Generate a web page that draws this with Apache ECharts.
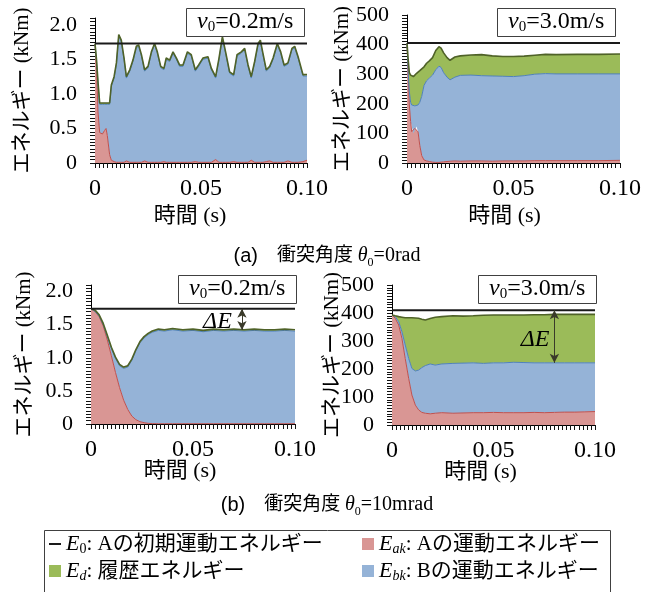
<!DOCTYPE html>
<html>
<head>
<meta charset="utf-8">
<script src="https://cdn.jsdelivr.net/npm/echarts@6/dist/echarts.min.js"></script>
<style>
  html, body { margin: 0; padding: 0; background: #fff; }
  #main { width: 654px; height: 592px; }
</style>
</head>
<body>
<div id="main"></div>
<script>
const SERIF = '"Liberation Serif", "Noto Sans CJK JP", serif';
const SANS = '"Liberation Sans", "Noto Sans CJK JP", sans-serif';

// (a) θ0=0rad, v0=0.2m/s  -- time (s) and energies (kNm)
const tA1 = [0, 0.0007, 0.0014, 0.0022, 0.0035, 0.0045, 0.0052, 0.0058, 0.0069, 0.0077,
  0.0090, 0.0101, 0.0112, 0.0124, 0.0137, 0.0148, 0.0164, 0.0179, 0.0195, 0.0206,
  0.0219, 0.0234, 0.0250, 0.0266, 0.0281, 0.0294, 0.0310, 0.0325, 0.0336, 0.0352,
  0.0368, 0.0384, 0.0399, 0.0415, 0.0436, 0.0454, 0.0473, 0.0489, 0.0509, 0.0533,
  0.0549, 0.0569, 0.0585, 0.0601, 0.0616, 0.0635, 0.0654, 0.0670, 0.0690, 0.0706,
  0.0722, 0.0737, 0.0753, 0.0769, 0.0780, 0.0792, 0.0808, 0.0824, 0.0840, 0.0860,
  0.0876, 0.0892, 0.0910, 0.0929, 0.0942, 0.0958, 0.0981, 0.1000];
const akA1 = [1.72, 1.40, 0.75, 0.44, 0.42, 0.47, 0.50, 0.40, 0.12, 0.04,
  0.02, 0.01, 0.01, 0.01, 0.01, 0.03, 0.01, 0.01, 0.01, 0.01,
  0.01, 0.03, 0.01, 0.01, 0.01, 0.01, 0.01, 0.02, 0.01, 0.01,
  0.01, 0.01, 0.01, 0.01, 0.01, 0.01, 0.02, 0.01, 0.01, 0.01,
  0.01, 0.05, 0.01, 0.01, 0.01, 0.01, 0.02, 0.01, 0.01, 0.01,
  0.01, 0.04, 0.01, 0.01, 0.01, 0.01, 0.02, 0.03, 0.01, 0.01,
  0.01, 0.01, 0.03, 0.01, 0.01, 0.01, 0.02, 0.04];
const bkA1 = [0, 0.08, 0.41, 0.41, 0.43, 0.38, 0.35, 0.45, 0.73, 1.07,
  1.21, 1.42, 1.83, 1.75, 1.49, 1.20, 1.32, 1.46, 1.66, 1.68,
  1.54, 1.30, 1.37, 1.58, 1.70, 1.58, 1.37, 1.33, 1.49, 1.46,
  1.58, 1.49, 1.39, 1.39, 1.58, 1.54, 1.31, 1.39, 1.49, 1.51,
  1.34, 1.18, 1.49, 1.80, 1.58, 1.29, 1.24, 1.54, 1.58, 1.63,
  1.39, 1.19, 1.44, 1.70, 1.75, 1.56, 1.31, 1.35, 1.49, 1.70,
  1.58, 1.39, 1.40, 1.63, 1.66, 1.51, 1.24, 1.22];
const dA1 = [0.01, 0.02, 0.02, 0.02, 0.02, 0.02, 0.02, 0.02, 0.02, 0.02,
  0.02, 0.02, 0.02, 0.02, 0.02, 0.02, 0.02, 0.02, 0.02, 0.02,
  0.02, 0.02, 0.02, 0.02, 0.02, 0.02, 0.02, 0.02, 0.02, 0.02,
  0.02, 0.02, 0.02, 0.02, 0.02, 0.02, 0.02, 0.02, 0.02, 0.02,
  0.02, 0.02, 0.02, 0.02, 0.02, 0.02, 0.02, 0.02, 0.02, 0.02,
  0.02, 0.02, 0.02, 0.02, 0.02, 0.02, 0.02, 0.02, 0.02, 0.02,
  0.02, 0.02, 0.02, 0.02, 0.02, 0.02, 0.02, 0.02];

// (a) θ0=0rad, v0=3.0m/s
const tA2 = [0, 0.0006, 0.0011, 0.0017, 0.0022, 0.0030, 0.0037, 0.0045, 0.0052, 0.0060,
  0.0069, 0.0080, 0.0092, 0.0105, 0.0120, 0.0135, 0.0150, 0.0160, 0.0172, 0.0188,
  0.0202, 0.0225, 0.0250, 0.0300, 0.0350, 0.0400, 0.0450, 0.0500, 0.0550, 0.0600,
  0.0650, 0.0700, 0.0800, 0.0900, 0.1000];
const akA2 = [405, 290, 196, 140, 106, 100, 117, 123, 105, 60,
  25, 10, 7, 5, 3, 2, 2, 3, 4, 5,
  6, 7, 6, 7, 7, 6, 7, 7, 7, 8,
  8, 8, 8, 8, 9];
const bkA2 = [0, 10, 45, 65, 90, 93, 76, 72, 91, 145,
  200, 252, 271, 282, 294, 313, 325, 320, 301, 285,
  275, 283, 290, 290, 288, 288, 286, 285, 288, 292,
  294, 293, 293, 293, 292];
const dA2 = [0, 45, 64, 92, 99, 99, 102, 108, 112, 107,
  91, 63, 59, 58, 59, 65, 66, 65, 67, 66,
  66, 68, 66, 68, 71, 68, 67, 68, 66, 64,
  65, 65, 66, 66, 67];

// (b) θ0=10mrad, v0=0.2m/s
const tB1 = [0, 0.002, 0.004, 0.006, 0.008, 0.010, 0.012, 0.014, 0.016, 0.018,
  0.020, 0.022, 0.024, 0.026, 0.028, 0.030, 0.033, 0.036, 0.040, 0.045,
  0.050, 0.055, 0.060, 0.065, 0.070, 0.075, 0.080, 0.085, 0.090, 0.095, 0.100];
const akB1 = [1.74, 1.70, 1.62, 1.48, 1.27, 1.03, 0.78, 0.55, 0.36, 0.22,
  0.12, 0.065, 0.035, 0.02, 0.01, 0.006, 0.004, 0.004, 0.004, 0.004,
  0.004, 0.004, 0.004, 0.004, 0.004, 0.004, 0.004, 0.004, 0.004, 0.004, 0.004];
const bkB1 = [0, 0, 0.01, 0.02, 0.05, 0.11, 0.21, 0.33, 0.48, 0.64,
  0.84, 1.04, 1.19, 1.28, 1.34, 1.38, 1.41, 1.40, 1.42, 1.40,
  1.41, 1.39, 1.41, 1.40, 1.41, 1.40, 1.41, 1.40, 1.40, 1.41, 1.40];
const dB1 = [0, 0.02, 0.02, 0.02, 0.02, 0.02, 0.02, 0.02, 0.02, 0.02,
  0.02, 0.02, 0.02, 0.02, 0.02, 0.02, 0.02, 0.02, 0.02, 0.02,
  0.02, 0.02, 0.02, 0.02, 0.02, 0.02, 0.02, 0.02, 0.02, 0.02, 0.02];

// (b) θ0=10mrad, v0=3.0m/s
const tB2 = [0, 0.0016, 0.0033, 0.0049, 0.0065, 0.0082, 0.0098, 0.0115, 0.0131, 0.0147,
  0.0164, 0.0188, 0.0213, 0.0245, 0.030, 0.035, 0.040, 0.045, 0.050, 0.055,
  0.060, 0.065, 0.070, 0.075, 0.080, 0.085, 0.090, 0.095, 0.100];
const akB2 = [393, 381, 357, 309, 238, 167, 107, 71, 54, 45,
  42, 40, 42, 44, 42, 43, 44, 44, 45, 44,
  44, 44, 45, 44, 45, 46, 46, 47, 48];
const bkB2 = [0, 6, 12, 24, 48, 71, 95, 122, 142, 160,
  170, 178, 172, 174, 178, 178, 178, 176, 177, 178,
  180, 179, 177, 178, 177, 176, 176, 175, 174];
const dB2 = [0, 3, 18, 52, 97, 145, 181, 189, 185, 173,
  163, 162, 171, 169, 170, 168, 168, 172, 171, 171,
  169, 170, 172, 172, 173, 173, 173, 173, 173];

// initial kinetic energy of A, per panel
const e0Values = [1.73, 405, 1.74, 410];
const speedLabels = ['0.2', '3.0', '0.2', '3.0'];

// tick labels
const xTickValues = [0, 0.05, 0.1];
const xTickLabels = ['0', '0.05', '0.10'];
const yTickValuesSmall = [0, 0.5, 1.0, 1.5, 2.0];
const yTickLabelsSmall = ['0', '0.5', '1.0', '1.5', '2.0'];
const yTickValuesLarge = [0, 100, 200, 300, 400, 500];
const yTickLabelsLarge = ['0', '100', '200', '300', '400', '500'];

// ΔE arrows (b): time, from, to ; label position
const dEArrows = { 2: [0.074, 1.74, 1.42], 3: [0.080, 410, 222] };
const dELabels = { 2: [0.062, 1.54], 3: [0.0705, 304] };

const C = {
  ak: '#d99694', akLine: '#c0504d',
  bk: '#95b3d7', bkLine: '#4f81bd',
  d: '#9bbb59', dLine: '#4f6228',
  e0: '#1a1a1a', tick: '#111'
};

// tick marks every 0.002 s on x, every 0.05 / 10 kNm on y; labels only on round values
const panels = [
  { t: tA1, ak: akA1, bk: bkA1, d: dA1, grid: { left: 95, top: 18, width: 212, height: 145 }, ymax: 2.1, ystep: 0.05, big: false, yGap: 62, xGap: 42, xShift: 22, box: [186, 7] },
  { t: tA2, ak: akA2, bk: bkA2, d: dA2, grid: { left: 407, top: 15, width: 213, height: 148 }, ymax: 500, ystep: 10, big: true, yGap: 54, xGap: 42, xShift: 18, box: [497, 7] },
  { t: tB1, ak: akB1, bk: bkB1, d: dB1, grid: { left: 91, top: 285, width: 204, height: 139 }, ymax: 2.1, ystep: 0.05, big: false, yGap: 56, xGap: 36, xShift: 26, box: [178, 274] },
  { t: tB2, ak: akB2, bk: bkB2, d: dB2, grid: { left: 392, top: 285, width: 203, height: 140 }, ymax: 500, ystep: 10, big: true, yGap: 49, xGap: 36, xShift: 26, box: [478, 274] }
];

function labelFn(vals, labels) {
  return function (v) {
    for (let i = 0; i < vals.length; i++) {
      if (Math.abs(v - vals[i]) < 1e-7) return labels[i];
    }
    return '';
  };
}

const grids = [], xAxes = [], yAxes = [], series = [], titles = [];
const nameFont = { fontFamily: SERIF, fontWeight: 'normal', color: '#000' };
function tickStyle() {
  return { show: true, inside: false, length: 5, lineStyle: { color: C.tick, width: 1 } };
}

panels.forEach(function (p, i) {
  grids.push(Object.assign({ containLabel: false, outerBoundsMode: 'none' }, p.grid));
  xAxes.push({
    type: 'value', gridIndex: i, min: 0, max: 0.1, interval: 0.002,
    name: '時間 (s)', nameLocation: 'middle', nameGap: p.xGap, nameMoveOverlap: false,
    nameTextStyle: Object.assign({ fontSize: 22, padding: [0, p.xShift, 0, 0] }, nameFont),
    axisLine: { show: true, onZero: false, lineStyle: { color: '#000', width: 1 } },
    axisTick: tickStyle(),
    axisLabel: { show: true, margin: 14, fontFamily: SERIF, fontSize: 24, color: '#000', formatter: labelFn(xTickValues, xTickLabels) },
    splitLine: { show: false }
  });
  yAxes.push({
    type: 'value', gridIndex: i, min: 0, max: p.ymax, interval: p.ystep,
    name: 'エネルギー (kNm)', nameLocation: 'middle', nameRotate: 90, nameGap: p.yGap, nameMoveOverlap: false,
    nameTextStyle: Object.assign({ fontSize: 21 }, nameFont),
    axisLine: { show: true, onZero: false, lineStyle: { color: '#000', width: 1 } },
    axisTick: tickStyle(),
    axisLabel: {
      show: true, margin: 18, fontFamily: SERIF, fontSize: 22, color: '#000',
      formatter: p.big ? labelFn(yTickValuesLarge, yTickLabelsLarge) : labelFn(yTickValuesSmall, yTickLabelsSmall)
    },
    splitLine: { show: false }
  });

  const parts = [
    ['Eak', p.ak, C.ak, C.akLine, 1],
    ['Ebk', p.bk, C.bk, C.bkLine, 1],
    ['Ed', p.d, C.d, C.dLine, 1.6]
  ];
  parts.forEach(function (q) {
    series.push({
      name: q[0], type: 'line', xAxisIndex: i, yAxisIndex: i, stack: 'energy' + i,
      encode: { x: 1, y: 0 },
      data: p.t.map(function (tv, k) { return [q[1][k], tv]; }),
      symbol: 'none', silent: true,
      itemStyle: { color: q[2] },
      lineStyle: { color: q[3], width: q[4] },
      areaStyle: { color: q[2], opacity: 1 }
    });
  });

  const e0Series = {
    name: 'E0', type: 'line', xAxisIndex: i, yAxisIndex: i,
    data: [[0, e0Values[i]], [0.1, e0Values[i]]],
    symbol: 'none', silent: true,
    itemStyle: { color: C.e0 },
    lineStyle: { color: C.e0, width: 2 }
  };
  if (dEArrows[i]) {
    const a = dEArrows[i];
    e0Series.markLine = {
      silent: true, symbol: ['arrow', 'arrow'], symbolSize: [7, 9],
      lineStyle: { color: '#3a3a2a', width: 1, type: 'solid' },
      label: { show: false },
      data: [[{ coord: [a[0], a[1]] }, { coord: [a[0], a[2]] }]]
    };
    const l = dELabels[i];
    e0Series.markPoint = {
      silent: true,
      data: [{
        coord: [l[0], l[1]], symbol: 'rect', symbolSize: 1,
        itemStyle: { color: 'rgba(0,0,0,0)' },
        label: { show: true, position: 'inside', formatter: 'ΔE', fontFamily: SERIF, fontStyle: 'italic', fontWeight: 'normal', fontSize: 24, color: '#000' }
      }]
    };
  }
  series.push(e0Series);

  titles.push({
    text: '{i|v}{s|0}{n|=' + speedLabels[i] + 'm/s}',
    left: p.box[0], top: p.box[1],
    padding: [2, 11, 2, 11],
    borderColor: '#404040', borderWidth: 1, backgroundColor: '#fff',
    textStyle: {
      fontWeight: 'normal',
      rich: {
        i: { fontFamily: SERIF, fontStyle: 'italic', fontWeight: 'normal', fontSize: 24, lineHeight: 26, color: '#000' },
        s: { fontFamily: SERIF, fontWeight: 'normal', fontSize: 15, lineHeight: 12, verticalAlign: 'bottom', color: '#000' },
        n: { fontFamily: SERIF, fontWeight: 'normal', fontSize: 24, lineHeight: 26, color: '#000' }
      }
    }
  });
});

const captionRich = {
  p: { fontFamily: SANS, fontWeight: 'normal', fontSize: 20, lineHeight: 26, color: '#000' },
  j: { fontFamily: SERIF, fontWeight: 'normal', fontSize: 19, lineHeight: 26, color: '#000' },
  i: { fontFamily: SERIF, fontStyle: 'italic', fontWeight: 'normal', fontSize: 20, lineHeight: 26, color: '#000' },
  s: { fontFamily: SERIF, fontWeight: 'normal', fontSize: 12, lineHeight: 10, verticalAlign: 'bottom', color: '#000' },
  n: { fontFamily: SERIF, fontWeight: 'normal', fontSize: 20, lineHeight: 26, color: '#000' }
};
titles.push({ text: '{p|(a)}{j|　衝突角度 }{i|θ}{s|0}{n|=0rad}', left: 'center', top: 243, padding: 0, textStyle: { fontWeight: 'normal', rich: captionRich } });
titles.push({ text: '{p|(b)}{j|　衝突角度 }{i|θ}{s|0}{n|=10mrad}', left: 'center', top: 492, padding: 0, textStyle: { fontWeight: 'normal', rich: captionRich } });

const legendText = {
  E0: '{e|E}{s|0}{n|: Aの初期運動エネルギー}',
  Eak: '{e|E}{si|ak}{n|: Aの運動エネルギー}',
  Ed: '{e|E}{si|d}{n|: 履歴エネルギー}',
  Ebk: '{e|E}{si|bk}{n|: Bの運動エネルギー}'
};
const legendRich = {
  e: { fontFamily: SERIF, fontStyle: 'italic', fontSize: 22, lineHeight: 24, color: '#000' },
  s: { fontFamily: SERIF, fontSize: 14, lineHeight: 11, verticalAlign: 'bottom', color: '#000' },
  si: { fontFamily: SERIF, fontStyle: 'italic', fontSize: 14, lineHeight: 11, verticalAlign: 'bottom', color: '#000' },
  n: { fontFamily: SERIF, fontSize: 21, lineHeight: 24, color: '#000' }
};
function legendBase(left, items) {
  return {
    left: left, top: 533, orient: 'vertical', itemGap: 4, itemWidth: 12, itemHeight: 12,
    padding: 0, selectedMode: false, data: items,
    formatter: function (name) { return legendText[name]; },
    textStyle: { rich: legendRich }
  };
}

const chart = echarts.init(document.getElementById('main'), null, { renderer: 'canvas' });
chart.setOption({
  animation: false,
  backgroundColor: '#fff',
  textStyle: { fontFamily: SERIF },
  title: titles,
  grid: grids,
  xAxis: xAxes,
  yAxis: yAxes,
  legend: [
    legendBase(48, [
      { name: 'E0', itemStyle: { color: 'rgba(0,0,0,0)', borderWidth: 0 }, lineStyle: { color: C.e0, width: 2 } },
      { name: 'Ed', icon: 'rect', itemStyle: { color: C.d } }
    ]),
    legendBase(362, [
      { name: 'Eak', icon: 'rect', itemStyle: { color: C.ak } },
      { name: 'Ebk', icon: 'rect', itemStyle: { color: C.bk } }
    ])
  ],
  graphic: [{
    type: 'rect', left: 42, top: 528, silent: true,
    shape: { width: 566, height: 70 },
    style: { fill: 'none', stroke: '#404040', lineWidth: 1 }
  }],
  series: series
});
</script>
</body>
</html>
